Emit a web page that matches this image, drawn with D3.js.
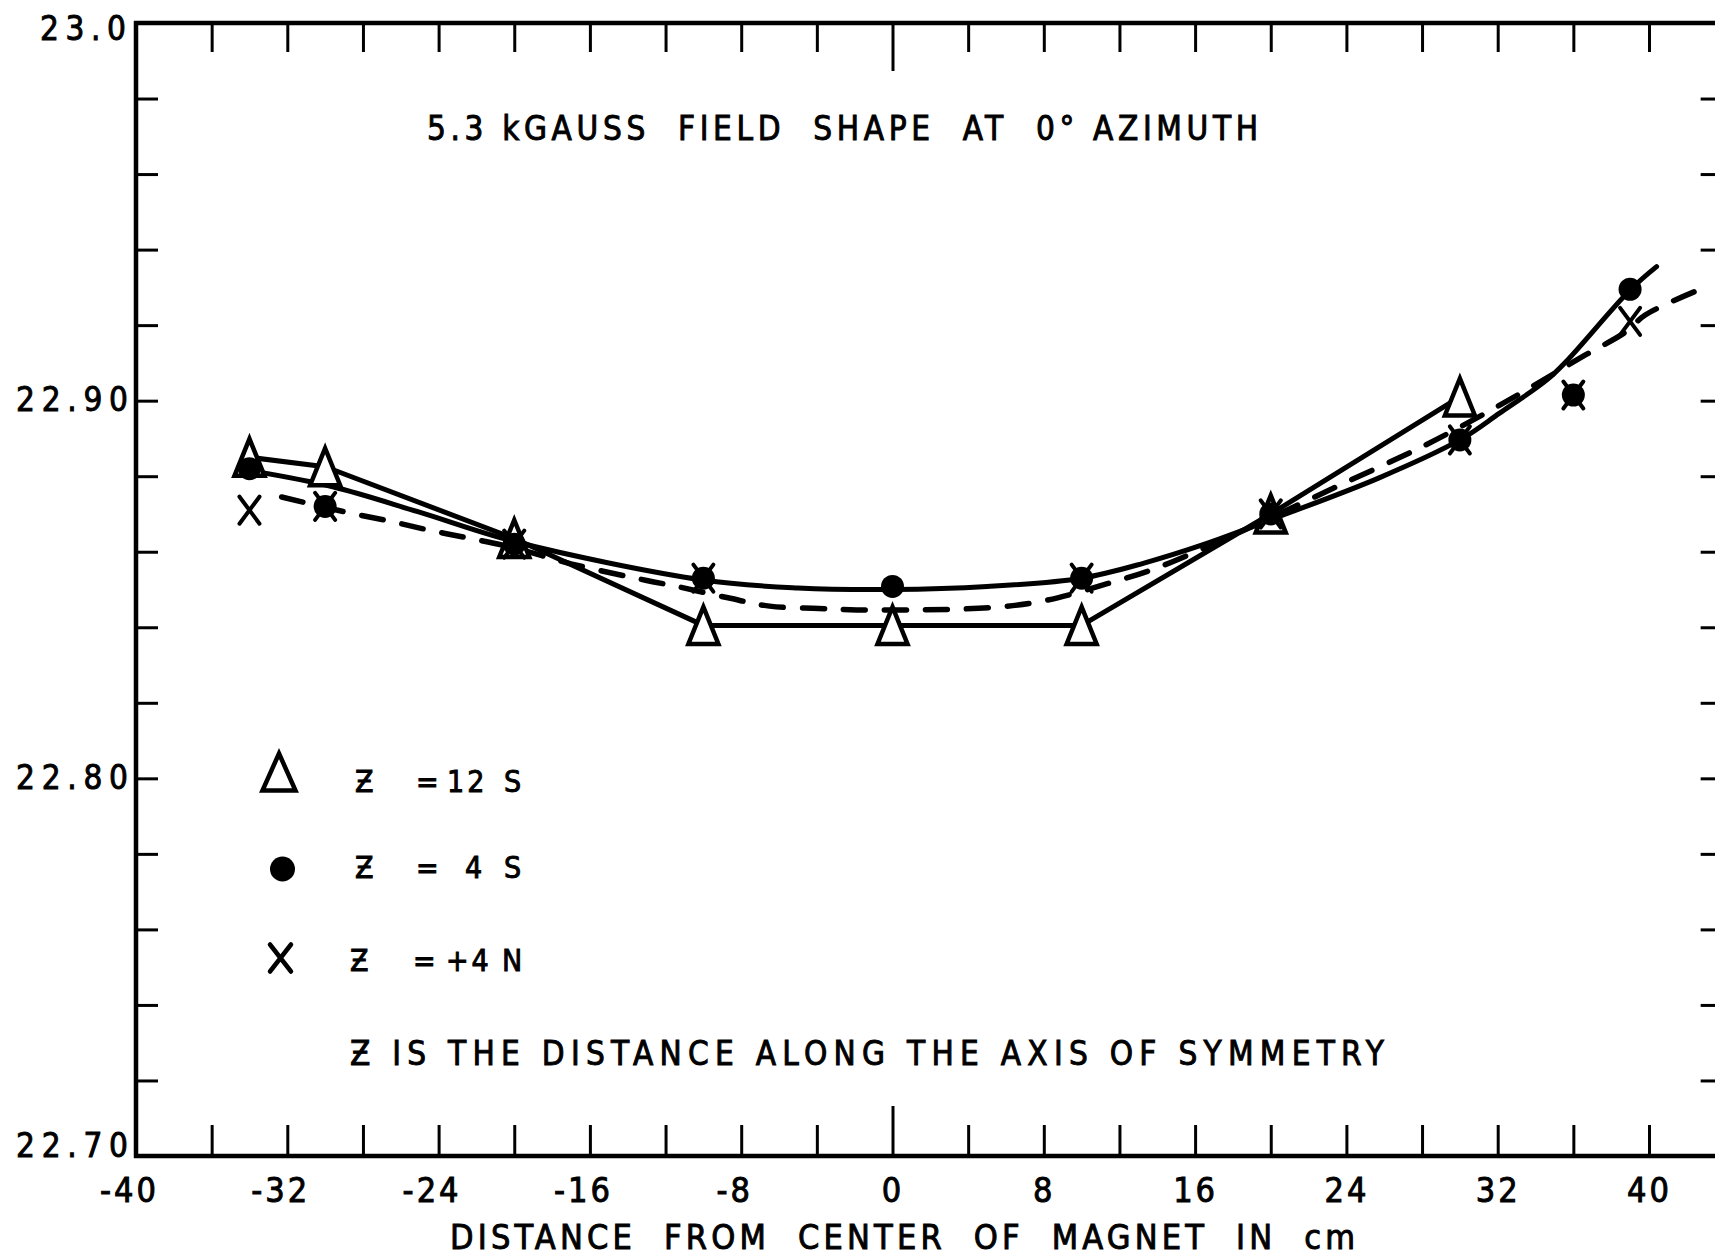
<!DOCTYPE html>
<html>
<head>
<meta charset="utf-8">
<script src="https://cdn.jsdelivr.net/npm/d3@7/dist/d3.min.js"></script>
<style>
  html,body{margin:0;padding:0;background:#fff;}
  svg{display:block;}
  text{font-family:"DejaVu Sans Condensed","DejaVu Sans",sans-serif;fill:#000;stroke:#000;stroke-width:0.9px;white-space:pre;}
</style>
</head>
<body>
<svg id="chart" width="1715" height="1259"></svg>
<script>
// ---------- tick labels and texts ----------
const xTickValues = [-40, -32, -24, -16, -8, 0, 8, 16, 24, 32, 40];
const xTickLabels = ["-40", "-32", "-24", "-16", "-8", "0", "8", "16", "24", "32", "40"];
const yTickValues = [22.70, 22.80, 22.90, 23.0];
const yTickLabels = ["22.70", "22.80", "22.90", "23.0"];
const titleText = "5.3 kGAUSS  FIELD  SHAPE  AT  0\u00B0 AZIMUTH";
const xAxisTitle = "DISTANCE  FROM  CENTER  OF  MAGNET  IN  cm";
const legendLabels = ["\u01B5 = 12 S", "\u01B5 = 4 S", "\u01B5 = +4 N"];
const noteText = "\u01B5 IS THE DISTANCE ALONG THE AXIS OF SYMMETRY";

// ---------- series: Z = 12 S (triangles, straight solid line) ----------
const z12sX = [-34, -30, -20, -10, 0, 10, 20, 30];
const z12sY = [22.885, 22.8825, 22.8635, 22.8405, 22.8405, 22.8405, 22.870, 22.901];

// ---------- series: Z = 4 S (dots) ----------
const z4sX = [-34, -30, -20, -10, 0, 10, 20, 30, 36, 39];
const z4sY = [22.882, 22.872, 22.862, 22.853, 22.8508, 22.853, 22.870, 22.8896, 22.9015, 22.9295];
// solid smooth curve drawn for Z = 4 S
const z4sCurveX = [-34, -29.6, -25.1, -20, -10, -5, 0, 5, 10, 13.3, 16.5, 20, 25.7, 30, 32.1, 34.6, 35.7, 39, 40.4];
const z4sCurveY = [22.8815, 22.8772, 22.8706, 22.8627, 22.8525, 22.8504, 22.8500, 22.8508, 22.853, 22.857, 22.862, 22.8685, 22.8795, 22.8896, 22.8967, 22.9055, 22.9108, 22.9293, 22.9355];

// ---------- series: Z = +4 N (crosses) ----------
const z4nX = [-34, -30, -20, -10, 10, 20, 30, 36, 39];
const z4nY = [22.871, 22.872, 22.862, 22.853, 22.853, 22.870, 22.8896, 22.9015, 22.921];
// dashed smooth curve drawn for Z = +4 N
const z4nCurveX = [-32.3, -29, -26.5, -24.4, -22.4, -20, -17, -13, -11.3, -8.7, -6.5, -3.9, -1.9, 1, 3.5, 5.9, 8.2, 11.4, 13.7, 16.5, 20, 23.3, 28.2, 31.5, 33.5, 36.5, 38.8, 39.8, 43.1];
const z4nCurveY = [22.8745, 22.8706, 22.868, 22.8656, 22.8636, 22.861, 22.8568, 22.8524, 22.8507, 22.8478, 22.8456, 22.8450, 22.8446, 22.8446, 22.8448, 22.8455, 22.8472, 22.8516, 22.8552, 22.861, 22.869, 22.8768, 22.8883, 22.8971, 22.9028, 22.9117, 22.9183, 22.9227, 22.9303];

// ---------- drawing ----------
const svg = d3.select("#chart");
const x = d3.scaleLinear().domain([-40, 40]).range([136, 1649]);
const y = d3.scaleLinear().domain([22.7, 23.0]).range([1156, 23]);
const xMax = 44;                       // frame continues past the picture edge
const xMinorTicks = d3.range(-36, 45, 4);
const yMinorTicks = d3.range(1, 15).map(i => 22.70 + i * 0.02);

const x0 = x(-40), x1 = x(xMax), yTop = y(23.0), yBot = y(22.7);

// frame
const frame = svg.append("g").attr("stroke", "#000").attr("stroke-width", 4.5).attr("fill", "none");
frame.append("line").attr("x1", x0).attr("x2", x0).attr("y1", yTop - 2).attr("y2", yBot + 2);
frame.append("line").attr("x1", x0 - 2).attr("x2", x1).attr("y1", yTop).attr("y2", yTop);
frame.append("line").attr("x1", x0 - 2).attr("x2", x1).attr("y1", yBot).attr("y2", yBot);
frame.append("line").attr("x1", x1).attr("x2", x1).attr("y1", yTop).attr("y2", yBot);

function styleTicks(g) {
  g.select(".domain").remove();
  g.selectAll(".tick line").attr("stroke", "#000").attr("stroke-width", 3);
  g.selectAll(".tick text").remove();
}
// top ticks (pointing down)
svg.append("g").attr("transform", `translate(0,${yTop})`)
  .call(d3.axisTop(x).tickValues(xMinorTicks).tickSize(-29).tickFormat(""))
  .call(styleTicks)
  .selectAll(".tick line").attr("y2", d => d === 0 ? 48 : 29);
// bottom ticks (pointing up)
svg.append("g").attr("transform", `translate(0,${yBot})`)
  .call(d3.axisBottom(x).tickValues(xMinorTicks).tickSize(-31).tickFormat(""))
  .call(styleTicks)
  .selectAll(".tick line").attr("y2", d => d === 0 ? -50 : -31);
// left ticks (pointing right)
svg.append("g").attr("transform", `translate(${x0},0)`)
  .call(d3.axisLeft(y).tickValues(yMinorTicks).tickSize(-22).tickFormat(""))
  .call(styleTicks);
// right ticks (pointing left)
svg.append("g").attr("transform", `translate(${x1},0)`)
  .call(d3.axisRight(y).tickValues(yMinorTicks).tickSize(-24).tickFormat(""))
  .call(styleTicks);

// y labels
const gy = svg.append("g").attr("transform", `translate(${x0},0)`)
  .call(d3.axisLeft(y).tickValues(yTickValues).tickSize(0).tickPadding(9)
        .tickFormat((d, i) => yTickLabels[i]));
gy.select(".domain").remove();
gy.selectAll(".tick text")
  .attr("font-family", null).attr("font-size", 33)
  .attr("textLength", d => d === 23.0 ? 86 : 112).attr("lengthAdjust", "spacing")
  .attr("dy", d => d === 23.0 ? 16 : (d === 22.7 ? 0 : 10))
  .attr("x", d => d === 23.0 ? -10 : -8);

// x labels
const gx = svg.append("g").attr("transform", `translate(0,${yBot})`)
  .call(d3.axisBottom(x).tickValues(xTickValues).tickSize(0).tickPadding(22)
        .tickFormat((d, i) => xTickLabels[i]));
gx.select(".domain").remove();
gx.selectAll(".tick text")
  .attr("font-family", null).attr("font-size", 34).attr("letter-spacing", 3)
  .each(function(d, i) {
    if (d < 0) {
      const t = d3.select(this);
      const full = this.getComputedTextLength();
      t.text(xTickLabels[i].slice(1));
      const part = this.getComputedTextLength();
      t.text(xTickLabels[i]);
      t.attr("x", -(full - part) / 2);
    }
  });

// titles
svg.append("text").attr("x", 427).attr("y", 140).attr("font-size", 33)
  .attr("xml:space", "preserve")
  .attr("textLength", 831).attr("lengthAdjust", "spacing").text(titleText);
svg.append("text").attr("x", 450).attr("y", 1249).attr("font-size", 34)
  .attr("xml:space", "preserve")
  .attr("textLength", 905).attr("lengthAdjust", "spacing").text(xAxisTitle);

// data lines
const lineLin = d3.line().x(d => x(d[0])).y(d => y(d[1]));
const lineCurve = d3.line().x(d => x(d[0])).y(d => y(d[1])).curve(d3.curveCatmullRom.alpha(0.5));

svg.append("path").datum(d3.zip(z12sX, z12sY)).attr("d", lineLin)
  .attr("fill", "none").attr("stroke", "#000").attr("stroke-width", 5)
  .attr("stroke-linejoin", "round").attr("stroke-linecap", "round");
svg.append("path").datum(d3.zip(z4sCurveX, z4sCurveY)).attr("d", lineCurve)
  .attr("fill", "none").attr("stroke", "#000").attr("stroke-width", 5)
  .attr("stroke-linecap", "round");
svg.append("path").datum(d3.zip(z4nCurveX, z4nCurveY)).attr("d", lineCurve)
  .attr("fill", "none").attr("stroke", "#000").attr("stroke-width", 5.5)
  .attr("stroke-dasharray", "22,19").attr("stroke-linecap", "round");

// markers
const triPath = (w, h) => `M0,${-h / 2}L${w / 2},${h / 2}L${-w / 2},${h / 2}Z`;
const crossPath = (w, h) => `M${-w / 2},${-h / 2}L${w / 2},${h / 2}M${w / 2},${-h / 2}L${-w / 2},${h / 2}`;

svg.append("g").selectAll("path").data(d3.zip(z12sX, z12sY)).join("path")
  .attr("transform", d => `translate(${x(d[0])},${y(d[1])})`)
  .attr("d", triPath(30, 37)).attr("fill", "#fff").attr("stroke", "#000")
  .attr("stroke-width", 4.5).attr("stroke-linejoin", "miter");
svg.append("g").selectAll("path").data(d3.zip(z4nX, z4nY)).join("path")
  .attr("transform", d => `translate(${x(d[0])},${y(d[1])})`)
  .attr("d", crossPath(20, 27)).attr("fill", "none").attr("stroke", "#000")
  .attr("stroke-width", 4).attr("stroke-linecap", "round");
svg.append("g").selectAll("circle").data(d3.zip(z4sX, z4sY)).join("circle")
  .attr("cx", d => x(d[0])).attr("cy", d => y(d[1])).attr("r", 11.5).attr("fill", "#000");

// legend
const leg = svg.append("g");
leg.append("path").attr("transform", "translate(279,772)").attr("d", triPath(33, 37))
  .attr("fill", "#fff").attr("stroke", "#000").attr("stroke-width", 4.5);
leg.append("circle").attr("cx", 282.5).attr("cy", 869).attr("r", 12.5).attr("fill", "#000");
leg.append("path").attr("transform", "translate(280.5,958)").attr("d", crossPath(21, 27))
  .attr("fill", "none").attr("stroke", "#000").attr("stroke-width", 4.5).attr("stroke-linecap", "round");
const legY = [792, 878, 971];
const legTokenX = [[355, 416, 447, 504], [355, 416, 465, 504], [350, 413, 446, 502]];
legendLabels.forEach((t, i) => {
  const txt = leg.append("text").attr("y", legY[i]).attr("font-size", 30)
    .attr("font-family", "'DejaVu Sans', sans-serif");
  t.split(" ").forEach((tok, j) => {
    txt.append("tspan").attr("x", legTokenX[i][j]).attr("letter-spacing", 3).text(tok);
  });
});
leg.append("text").attr("x", 350).attr("y", 1065).attr("font-size", 33)
  .attr("xml:space", "preserve")
  .attr("textLength", 1034).attr("lengthAdjust", "spacing").text(noteText);
</script>
</body>
</html>
